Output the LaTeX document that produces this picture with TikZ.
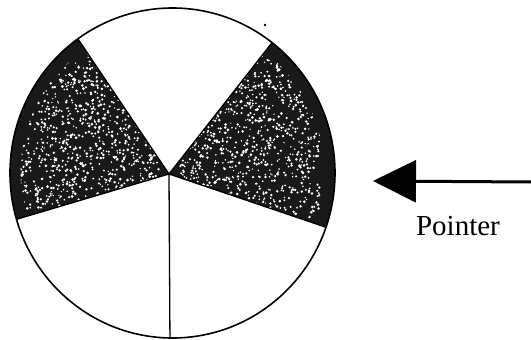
\documentclass[tikz,border=0pt]{standalone}
\usepackage{fontspec}
\setmainfont{Liberation Serif}
\usetikzlibrary{arrows.meta}
\begin{document}
\begin{tikzpicture}[x=1pt,y=1pt,
  rim/.style={line width=1.6pt},
  spoke/.style={line width=1.3pt},
  dark/.style={fill=black!90},
  speckle/.style={fill=white},
  pointerarrow/.style={line width=3pt,-{Triangle[length=43pt,width=42pt]}}]
\useasboundingbox (0,0) rectangle (531,-340);
\coordinate (E) at (172.5,-173);
\coordinate (H) at (169,-174);
\pgfmathsetseed{11}
% left shaded sector
\begin{scope}
\path[clip] (H) -- ([shift={(E)}]125.6:162.5pt and 165pt) arc[start angle=125.6,end angle=196.3,x radius=162.5pt,y radius=165pt] -- cycle;
\fill[dark] (0,0) rectangle (180,-240);
\path[clip] (E) circle (152pt);
\foreach \i in {1,...,1100}{
  \pgfmathsetmacro{\px}{20+140*rnd}
  \pgfmathsetmacro{\py}{-(50+160*rnd)}
  \pgfmathsetmacro{\pr}{0.7+0.8*rnd}
  \fill[speckle] (\px,\py) circle (\pr pt);
}
\end{scope}
% right shaded sector
\begin{scope}
\path[clip] (H) -- ([shift={(E)}]-19.2:162.5pt and 165pt) arc[start angle=-19.2,end angle=52.2,x radius=162.5pt,y radius=165pt] -- cycle;
\fill[dark] (160,0) rectangle (340,-240);
\path[clip] (E) circle (152pt);
\foreach \i in {1,...,1100}{
  \pgfmathsetmacro{\px}{180+140*rnd}
  \pgfmathsetmacro{\py}{-(55+165*rnd)}
  \pgfmathsetmacro{\pr}{0.7+0.8*rnd}
  \fill[speckle] (\px,\py) circle (\pr pt);
}
\end{scope}
% rim
\draw[rim] (E) ellipse[x radius=162.5pt,y radius=165pt];
% spokes
\draw[spoke] (H) -- ([shift={(E)}]269.1:162.5pt and 165pt);
\draw[spoke] (H) -- ([shift={(E)}]125.6:162.5pt and 165pt);
\draw[spoke] (H) -- ([shift={(E)}]196.3:162.5pt and 165pt);
\draw[spoke] (H) -- ([shift={(E)}]52.2:162.5pt and 165pt);
\draw[spoke] (H) -- ([shift={(E)}]-19.2:162.5pt and 165pt);
% speck
\fill (265,-25) circle (1.3pt);
% pointer
\coordinate (ps) at (531,-182);
\coordinate (pt) at (373,-181);
\draw[pointerarrow] (ps) -- (pt);
\node[font=\fontsize{29}{32}\selectfont] (lbl) at (458,-226) {Pointer};
\end{tikzpicture}
\end{document}
